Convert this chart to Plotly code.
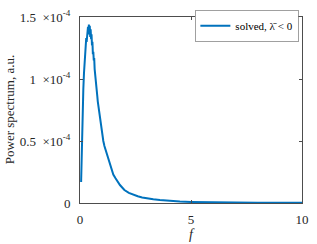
import plotly.graph_objects as go

# frequency f and power spectrum (in units of 1e-4, a.u.)
f = [0.05, 0.08, 0.10, 0.12, 0.15, 0.18, 0.20, 0.22, 0.25, 0.28, 0.30, 0.32, 0.34, 0.36,
     0.38, 0.40, 0.42, 0.44, 0.46, 0.48, 0.50, 0.52, 0.54, 0.56, 0.58, 0.60, 0.62, 0.64,
     0.66, 0.68, 0.70, 0.72, 0.75, 0.78, 0.80, 0.83, 0.86, 0.90, 0.94, 0.97, 1.00, 1.05,
     1.10, 1.15, 1.20, 1.25, 1.30, 1.35, 1.40, 1.50, 1.60, 1.70, 1.80, 1.90, 2.00, 2.20,
     2.40, 2.60, 2.80, 3.00, 3.30, 3.60, 3.90, 4.20, 4.50, 5.00, 5.50, 6.00, 7.00, 8.00,
     9.00, 10.0]
power_e4 = [0.17, 0.45, 0.62, 0.75, 0.92, 1.05, 1.12, 1.18, 1.25, 1.33, 1.30, 1.38, 1.35, 1.42,
            1.36, 1.44, 1.38, 1.43, 1.34, 1.40, 1.32, 1.36, 1.27, 1.30, 1.20, 1.22, 1.15, 1.17,
            1.08, 1.05, 1.00, 0.96, 0.90, 0.86, 0.82, 0.78, 0.74, 0.68, 0.62, 0.58, 0.55, 0.50,
            0.46, 0.43, 0.39, 0.36, 0.33, 0.30, 0.28, 0.23, 0.20, 0.17, 0.145, 0.125, 0.105, 0.082,
            0.066, 0.054, 0.045, 0.038, 0.030, 0.024, 0.019, 0.015, 0.012, 0.009, 0.007, 0.005, 0.0035, 0.0025,
            0.0018, 0.0013]
series_name = "solved, λ\u0304 < 0"

x_ticks = [0, 5, 10]
y_tick_vals_e4 = [0, 0.5, 1, 1.5]
y_tick_text = ["0",
               "0.5&nbsp;&nbsp;×10<sup>-4</sup>",
               "1&nbsp;&nbsp;×10<sup>-4</sup>",
               "1.5&nbsp;&nbsp;×10<sup>-4</sup>"]

power = [p * 1e-4 for p in power_e4]
y_tick_vals = [v * 1e-4 for v in y_tick_vals_e4]

font_family = "Liberation Serif"
axis_color = "#4d4d4d"

fig = go.Figure()
fig.add_trace(go.Scatter(x=f, y=power, mode="lines", name=series_name,
                         line=dict(color="#0072BD", width=2)))

fig.update_layout(
    width=317, height=244,
    margin=dict(l=80, r=8, t=8, b=36),
    paper_bgcolor="white", plot_bgcolor="white",
    font=dict(family=font_family, size=13, color="#262626"),
    showlegend=True,
    legend=dict(x=0.985, xanchor="right", y=1.035, yanchor="top",
                bgcolor="white", bordercolor="#777777", borderwidth=0.7,
                font=dict(size=11, family=font_family, color="#000000"),
                itemwidth=30, tracegroupgap=0),
)
fig.update_xaxes(range=[0, 10], tickvals=x_ticks, ticks="inside", ticklen=3,
                 ticklabelstandoff=4,
                 showline=True, linecolor=axis_color, linewidth=1, mirror="ticks",
                 tickcolor=axis_color, showgrid=False, zeroline=False,
                 title=dict(text="<i>f</i>", font=dict(size=14), standoff=0))
fig.update_yaxes(range=[0, 1.5e-4], tickvals=y_tick_vals, ticktext=y_tick_text,
                 ticks="inside", ticklen=3, ticklabelstandoff=6,
                 showline=True, linecolor=axis_color, linewidth=1, mirror="ticks",
                 tickcolor=axis_color, showgrid=False, zeroline=False)
fig.add_annotation(text="Power spectrum, a.u.", xref="paper", yref="paper",
                   x=-73 / 229, y=0.5, xanchor="center", yanchor="middle",
                   textangle=-90, showarrow=False,
                   font=dict(size=13, family=font_family, color="#262626"))

fig.write_html("out.html", config={"displayModeBar": False},
               post_script="document.body.style.margin='0';")
